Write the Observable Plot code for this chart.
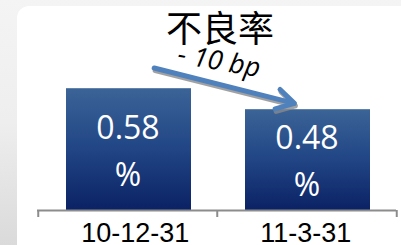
<!DOCTYPE html>
<html><head><meta charset="utf-8">
<script src="https://cdn.jsdelivr.net/npm/d3@7"></script>
<script src="https://cdn.jsdelivr.net/npm/@observablehq/plot@0.6"></script>
<style>
html,body{margin:0;padding:0;}
body{width:401px;height:245px;overflow:hidden;position:relative;background:linear-gradient(to bottom,#f4f4f4 0%,#eeeeee 50%,#dadada 100%);}
#panel{position:absolute;left:17px;top:6px;width:420px;height:280px;background:#ffffff;border-radius:12px;}
#chart{position:absolute;left:0;top:0;}
</style>
</head><body>
<div id="panel"></div>
<div id="chart"></div>
<script>
const categories = ["10-12-31", "11-3-31"];
const values = [0.58, 0.48];
const valueLabels = ["0.58\n%", "0.48\n%"];
const title = "不良率";
const changeLabel = "- 10 bp";
// arrow annotation: offsets above each bar top (in value units)
const arrowLift = [0.13, 0.015];

const data = categories.map((c, i) => ({date: c, value: values[i], label: valueLabels[i]}));
const arrowData = [{
  x1: categories[0], y1: values[0] + arrowLift[0],
  x2: categories[1], y2: values[1] + arrowLift[1]
}];

const W = 401, H = 245, mL = 37, mR = 5, mT = 0, mB = 35;
const bw = (W - mL - mR) / categories.length;

const svg = Plot.plot({
  width: W, height: H,
  marginLeft: mL, marginRight: mR, marginTop: mT, marginBottom: mB,
  style: {background: "transparent", overflow: "visible"},
  x: {domain: categories, padding: 0, axis: null},
  y: {domain: [0, 1], axis: null},
  marks: [
    Plot.barY(data, {x: "date", y: "value", fill: "url(#barGrad)", insetLeft: 28, insetRight: 26}),
    Plot.ruleY([0], {stroke: "#8c8c8c", strokeWidth: 2}),
    Plot.ruleX(categories, {x: d => d, dx: -bw / 2, stroke: "#8c8c8c", strokeWidth: 2, insetTop: H - mT - mB, insetBottom: -7}),
    Plot.ruleX(categories.slice(-1), {x: d => d, dx: bw / 2, stroke: "#8c8c8c", strokeWidth: 2, insetTop: H - mT - mB, insetBottom: -7}),
    Plot.text(data, {x: "date", y: d => d.value / 2 + 0.012, text: "label", fill: "white", fontSize: 32, lineHeight: 1.48, fontFamily: "Open Sans", lineAnchor: "middle"}),
    Plot.text(categories, {x: d => d, frameAnchor: "bottom", textAnchor: "start", lineAnchor: "top", dx: -bw / 2 + 43, dy: 12, fontSize: 27, fontFamily: "Liberation Sans", fill: "black"}),
    Plot.arrow(arrowData, {x1: "x1", y1: "y1", x2: "x2", y2: "y2", stroke: "#8a8a8a", strokeOpacity: 0.8, strokeWidth: 5, headLength: 6, insetStart: 27, insetEnd: 13, dx: 1, dy: 2.5}),
    Plot.arrow(arrowData, {x1: "x1", y1: "y1", x2: "x2", y2: "y2", stroke: "#4f81bd", strokeWidth: 5, headLength: 6, insetStart: 27, insetEnd: 13}),
    Plot.text([title], {frameAnchor: "top", lineAnchor: "middle", dx: 3, dy: 30, fontSize: 36, fontFamily: "Noto Sans CJK SC", fill: "black"}),
    Plot.text([changeLabel], {frameAnchor: "top", lineAnchor: "middle", dx: 2, dy: 61, rotate: 10, fontSize: 27, fontStyle: "italic", fontFamily: "Open Sans", fill: "black"})
  ]
});

const ns = "http://www.w3.org/2000/svg";
const defs = document.createElementNS(ns, "defs");
defs.innerHTML = '<linearGradient id="barGrad" x1="0" y1="0" x2="0" y2="1"><stop offset="0" stop-color="#3b6497"/><stop offset="0.5" stop-color="#214585"/><stop offset="1" stop-color="#0b2264"/></linearGradient>';
svg.insertBefore(defs, svg.firstChild);
document.getElementById("chart").appendChild(svg);
</script>
</body></html>
